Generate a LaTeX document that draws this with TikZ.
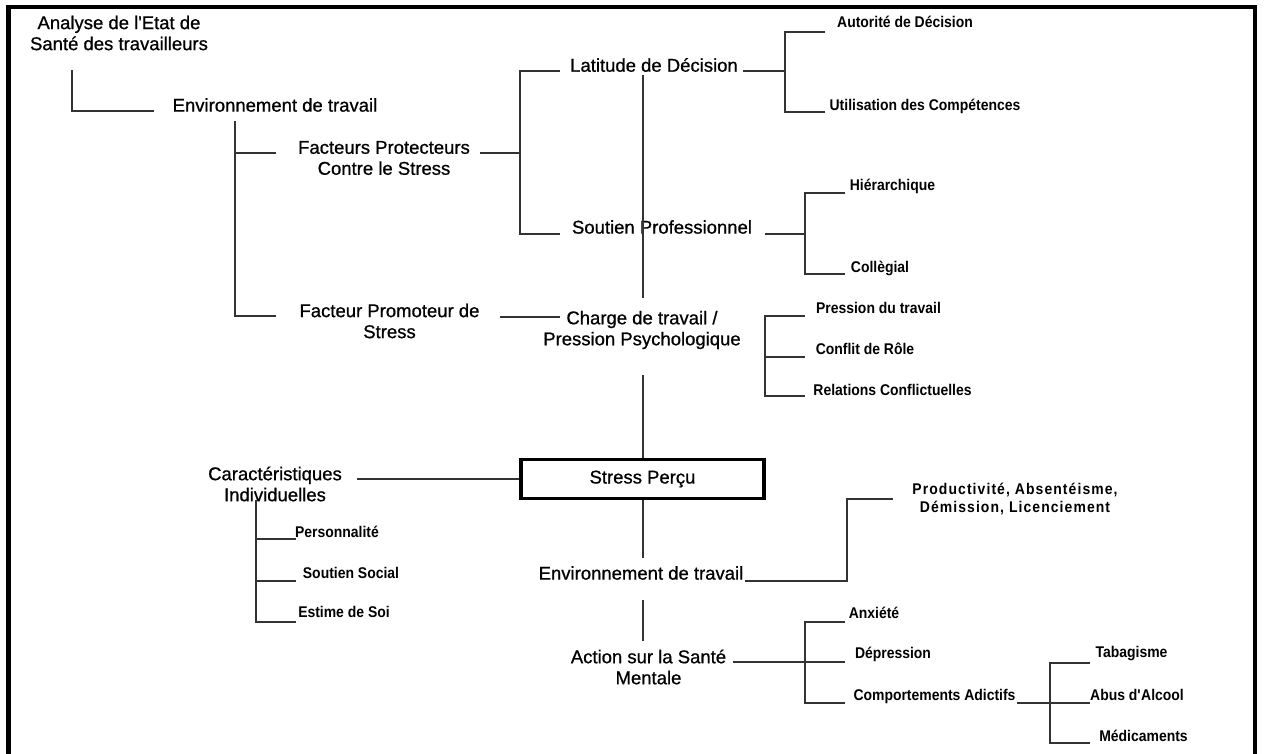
\documentclass[tikz,border=0pt]{standalone}
\usepackage{fontspec}
\setmainfont{Liberation Sans}
\newfontfamily\bigfont{Liberation Sans}[FakeBold=0.8]
\newfontfamily\smallfont{Liberation Sans Bold}[FakeStretch=0.9]
\newfontfamily\spacedfont{Liberation Sans Bold}[FakeStretch=0.9, LetterSpace=7.0]
\begin{document}
\begin{tikzpicture}[x=1pt,y=-1pt,
  big/.style={font=\bigfont\fontsize{18.5}{21}\selectfont, align=center, inner sep=0pt},
  small/.style={font=\smallfont\fontsize{15.5}{18}\selectfont, align=center, inner sep=0pt},
  conn/.style={line width=1.3pt, black!80},
  frame/.style={line width=4.5pt, black},
  mainbox/.style={draw, line width=3.4pt, minimum width=243pt, minimum height=39pt, inner sep=0pt}
]
\useasboundingbox (0,0) rectangle (1266,754);
% frame
\draw[frame] (8.5,760) -- (8.5,7) -- (1255,7) -- (1255,760);

% big labels
\node[big] (analyse) at (119,33) {Analyse de l\textquotesingle Etat de\\Santé des travailleurs};
\node[big] (env1) at (275,105) {Environnement de travail};
\node[big] (fprot) at (384,158) {Facteurs Protecteurs\\Contre le Stress};
\node[big] (fprom) at (389.5,321) {Facteur Promoteur de\\Stress};
\node[big] (lat) at (654,65) {Latitude de Décision};
\node[big] (sp) at (662,227) {Soutien Professionnel};
\node[big] (charge) at (642,330) {Charge de travail /\\Pression Psychologique};
\node[big, mainbox] (stress) at (642.5,479) {Stress Perçu};
\node[big] (carac) at (275,484) {Caractéristiques\\Individuelles};
\node[big] (env2) at (641,573) {Environnement de travail};
\node[big] (action) at (648.5,667) {Action sur la Santé\\Mentale};

% small labels
\node[small] (aut) at (905,22) {Autorité de Décision};
\node[small] (util) at (925,106) {Utilisation des Compétences};
\node[small] (hier) at (892.5,186) {Hiérarchique};
\node[small] (coll) at (880,268) {Collègial};
\node[small] (press) at (878.5,308) {Pression du travail};
\node[small] (conf) at (865,349) {Conflit de Rôle};
\node[small] (rel) at (892.5,390) {Relations Conflictuelles};
\node[small, font=\spacedfont\fontsize{15.5}{18}\selectfont] (prod) at (1015,499) {Productivité, Absentéisme,\\Démission, Licenciement};
\node[small] (pers) at (337,532) {Personnalité};
\node[small] (soc) at (351,573) {Soutien Social};
\node[small] (est) at (344,612) {Estime de Soi};
\node[small] (anx) at (874,613) {Anxiété};
\node[small] (dep) at (893,654) {Dépression};
\node[small] (comp) at (934.5,696) {Comportements Adictifs};
\node[small] (tab) at (1131.5,654) {Tabagisme};
\node[small] (abus) at (1137,695) {Abus d\textquotesingle Alcool};
\node[small] (med) at (1143.5,736) {Médicaments};

% connectors
\draw[conn] (72,70) |- (154,111);
\draw[conn] (235,121) |- (276,316);
\draw[conn] (235,153) -- (276,153);
\draw[conn] (480,153) -- (520,153);
\draw[conn] (560,71) -| (520,234) -- (560,234);
\draw[conn] (643,75) -- (643,298);
\draw[conn] (500,317) -- (560,317);
\draw[conn] (743,71) -- (785,71);
\draw[conn] (825,32) -| (785,112) -- (825,112);
\draw[conn] (765,234) -- (805,234);
\draw[conn] (845,193) -| (805,274) -- (845,274);
\draw[conn] (805,316) -| (765,396) -- (805,396);
\draw[conn] (765,357) -- (805,357);
\draw[conn] (643,375) -- (stress.north -| 643,0);
\draw[conn] (357,479) -- (stress.west);
\draw[conn] (256,500) |- (296,622);
\draw[conn] (256,539) -- (296,539);
\draw[conn] (256,581) -- (296,581);
\draw[conn] (stress.south -| 643,0) -- (643,558);
\draw[conn] (745,581) -| (847,499) -- (893,499);
\draw[conn] (643,600) -- (643,641);
\draw[conn] (733,662) -- (845,662);
\draw[conn] (845,622) -| (805,703) -- (845,703);
\draw[conn] (1017,703) -- (1090,703);
\draw[conn] (1090,663) -| (1050,743) -- (1090,743);
\end{tikzpicture}
\end{document}
